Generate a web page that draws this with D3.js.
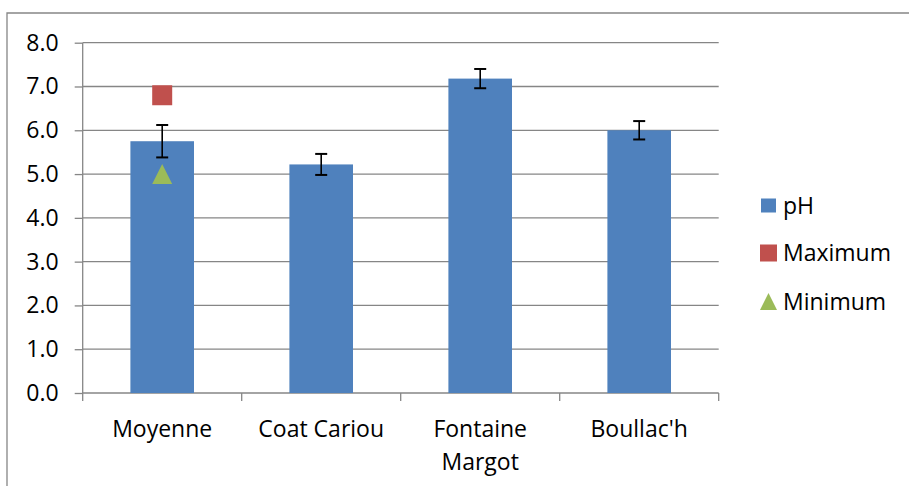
<!DOCTYPE html>
<html>
<head>
<meta charset="utf-8">
<script src="https://cdn.jsdelivr.net/npm/d3@7"></script>
<style>
  html, body { margin: 0; padding: 0; background: #fff; }
  svg { display: block; font-family: "Open Sans", sans-serif; }
</style>
</head>
<body>
<svg id="chart" width="909" height="486"></svg>
<script>
// ---- data ----
const categories = ["Moyenne", "Coat Cariou", "Fontaine Margot", "Boullac'h"];
const phValues = [5.75, 5.22, 7.18, 6.0];
const phErrors = [0.37, 0.24, 0.22, 0.21];
const maximumValues = [6.8, null, null, null];
const minimumValues = [5.0, null, null, null];
const yTicks = [0, 1, 2, 3, 4, 5, 6, 7, 8];
const seriesNames = ["pH", "Maximum", "Minimum"];

// ---- layout ----
const svg = d3.select("#chart");
const W = 909, H = 486;
const plot = { left: 82.7, right: 718.7, top: 42.7, bottom: 393 };
const gridColor = "#868686";
const colors = { pH: "#4F81BD", Maximum: "#C0504D", Minimum: "#9BBB59" };

// outer chart border (left + top visible)
svg.append("path")
  .attr("d", `M7,${H} L7,13 L${W},13`)
  .attr("fill", "none").attr("stroke", gridColor).attr("stroke-width", 1.3);

const x = d3.scaleBand().domain(categories)
  .range([plot.left, plot.right]).paddingInner(0.6).paddingOuter(0.3);
const y = d3.scaleLinear().domain([0, 8]).range([plot.bottom, plot.top]);

// gridlines
svg.append("g").selectAll("line").data(yTicks.filter(d => d > 0)).join("line")
  .attr("x1", plot.left).attr("x2", plot.right)
  .attr("y1", d => y(d)).attr("y2", d => y(d))
  .attr("stroke", gridColor).attr("stroke-width", 1.3);

// y axis
const yAxis = d3.axisLeft(y).tickValues(yTicks).tickFormat(d3.format(".1f")).tickSize(8).tickPadding(16);
const gy = svg.append("g").attr("transform", `translate(${plot.left},0)`).call(yAxis);
gy.select(".domain").attr("stroke", gridColor).attr("stroke-width", 1.3).attr("d", `M0,${plot.top}V${plot.bottom}`);
gy.selectAll(".tick line").attr("stroke", gridColor).attr("stroke-width", 1.3);
gy.selectAll(".tick text").attr("font-size", 23).attr("fill", "#000").attr("font-family", "'Open Sans', sans-serif");

// x axis (category boundaries ticks)
const step = x.step();
const bounds = d3.range(categories.length + 1).map(i => plot.left + i * step);
svg.append("line").attr("x1", plot.left).attr("x2", plot.right)
  .attr("y1", plot.bottom).attr("y2", plot.bottom)
  .attr("stroke", gridColor).attr("stroke-width", 1.3);
svg.append("g").selectAll("line").data(bounds).join("line")
  .attr("x1", d => d).attr("x2", d => d)
  .attr("y1", plot.bottom).attr("y2", plot.bottom + 8)
  .attr("stroke", gridColor).attr("stroke-width", 1.3);

// bars
svg.append("g").selectAll("rect").data(categories).join("rect")
  .attr("x", d => x(d)).attr("width", x.bandwidth())
  .attr("y", (d, i) => y(phValues[i]))
  .attr("height", (d, i) => y(0) - y(phValues[i]))
  .attr("fill", colors.pH);

// error bars
const eb = svg.append("g").attr("stroke", "#000").attr("stroke-width", 1.6);
categories.forEach((c, i) => {
  const cx = x(c) + x.bandwidth() / 2;
  const hi = y(phValues[i] + phErrors[i]), lo = y(phValues[i] - phErrors[i]);
  eb.append("line").attr("x1", cx).attr("x2", cx).attr("y1", hi).attr("y2", lo);
  eb.append("line").attr("x1", cx - 6).attr("x2", cx + 6).attr("y1", hi).attr("y2", hi).attr("stroke-width", 2);
  eb.append("line").attr("x1", cx - 6).attr("x2", cx + 6).attr("y1", lo).attr("y2", lo).attr("stroke-width", 2);
});

// maximum markers (squares)
const sq = 20;
svg.append("g").selectAll("rect").data(categories.map((c, i) => ({ c, v: maximumValues[i] })).filter(d => d.v != null))
  .join("rect")
  .attr("x", d => x(d.c) + x.bandwidth() / 2 - sq / 2)
  .attr("y", d => y(d.v) - sq / 2)
  .attr("width", sq).attr("height", sq)
  .attr("fill", colors.Maximum);

// minimum markers (triangles)
const tri = (cx, cy, s) => `M${cx},${cy - s / 2} L${cx + s / 2},${cy + s / 2} L${cx - s / 2},${cy + s / 2} Z`;
svg.append("g").selectAll("path").data(categories.map((c, i) => ({ c, v: minimumValues[i] })).filter(d => d.v != null))
  .join("path")
  .attr("d", d => tri(x(d.c) + x.bandwidth() / 2, y(d.v), 20))
  .attr("fill", colors.Minimum);

// category labels (wrapped)
const labelG = svg.append("g").attr("font-size", 23).attr("fill", "#000").attr("text-anchor", "middle");
categories.forEach(c => {
  const cx = x(c) + x.bandwidth() / 2;
  const t = labelG.append("text").attr("x", cx).attr("y", 436.5);
  const words = c.split(" ");
  let lines;
  // wrap if the label is wider than the category slot
  t.text(c);
  if (t.node().getComputedTextLength() > step - 10 && words.length > 1) {
    lines = [words.slice(0, -1).join(" "), words[words.length - 1]];
  } else {
    lines = [c];
  }
  t.text(null);
  lines.forEach((ln, k) => {
    t.append("tspan").attr("x", cx).attr("dy", k === 0 ? 0 : 33).text(ln);
  });
});

// legend
const legend = svg.append("g").attr("font-size", 23).attr("fill", "#000");
const legY = [205.5, 253, 301.5];
seriesNames.forEach((name, i) => {
  const cy = legY[i];
  if (name === "pH") {
    legend.append("rect").attr("x", 761).attr("y", cy - 7).attr("width", 15).attr("height", 14).attr("fill", colors.pH);
  } else if (name === "Maximum") {
    legend.append("rect").attr("x", 760).attr("y", cy - 8.5).attr("width", 17).attr("height", 17).attr("fill", colors.Maximum);
  } else {
    legend.append("path").attr("d", tri(768.5, cy, 17)).attr("fill", colors.Minimum);
  }
  legend.append("text").attr("x", 783).attr("y", cy).attr("dy", "0.36em").text(name);
});
</script>
</body>
</html>
